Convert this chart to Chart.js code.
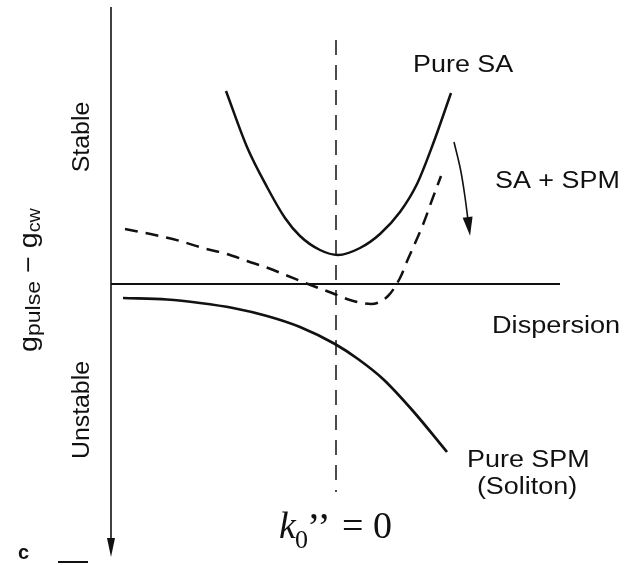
<!DOCTYPE html>
<html>
<head>
<meta charset="utf-8">
<script src="https://cdn.jsdelivr.net/npm/chart.js@4.4.1/dist/chart.umd.min.js"></script>
<style>
  html, body { margin: 0; padding: 0; background: #fff; }
  #wrap { position: relative; width: 637px; height: 565px; }
</style>
</head>
<body>
<div id="wrap"><canvas id="chart" width="637" height="565"></canvas></div>
<script>
// x: dispersion (0 at k0'' = 0), y: g_pulse - g_cw (0 = marginal stability)
const pureSaX = [-1.10, -0.89, -0.69, -0.51, -0.36, -0.16, 0.02, 0.24, 0.44, 0.64, 0.81, 0.97, 1.15];
const pureSaY = [1.93, 1.37, 0.97, 0.66, 0.48, 0.34, 0.29, 0.36, 0.50, 0.72, 1.00, 1.40, 1.91];

const saSpmX = [-2.11, -1.81, -1.56, -1.33, -1.09, -0.89, -0.68, -0.48, -0.28, -0.04, 0.14, 0.35, 0.52, 0.64, 0.72, 0.80, 0.88, 0.96, 1.05];
const saSpmY = [0.55, 0.49, 0.43, 0.36, 0.30, 0.23, 0.16, 0.08, 0.00, -0.09, -0.16, -0.20, -0.12, 0.06, 0.25, 0.43, 0.62, 0.84, 1.08];

const pureSpmX = [-2.13, -1.69, -1.36, -1.03, -0.69, -0.36, -0.01, 0.22, 0.47, 0.77, 1.11];
const pureSpmY = [-0.14, -0.155, -0.19, -0.24, -0.32, -0.43, -0.60, -0.75, -0.95, -1.27, -1.68];

// arrow from Pure SA down to SA + SPM
const arrowX = [1.18, 1.25, 1.29, 1.32];
const arrowY = [1.42, 1.12, 0.87, 0.64];

// k0'' = 0 marker
const zeroDispX = [0, 0];
const zeroDispY = [2.44, -2.08];

const xMin = -2.25, xMax = 2.24;
const yMin = -2.73, yMax = 2.77;

function pts(xs, ys) {
  return xs.map((x, i) => ({ x: x, y: ys[i] }));
}

function line(data, opts) {
  return Object.assign({
    data: data,
    showLine: true,
    pointRadius: 0,
    borderColor: "#111",
    borderWidth: 2.5,
    fill: false,
    cubicInterpolationMode: "monotone"
  }, opts);
}

function head(ctx, tx, ty, dx, dy, len, hw) {
  const n = Math.hypot(dx, dy) || 1;
  dx /= n; dy /= n;
  const bx = tx - dx * len, by = ty - dy * len;
  ctx.beginPath();
  ctx.moveTo(tx, ty);
  ctx.lineTo(bx - dy * hw, by + dx * hw);
  ctx.lineTo(bx + dy * hw, by - dx * hw);
  ctx.closePath();
  ctx.fill();
}

function wideText(ctx, text, x, y, sx) {
  ctx.save();
  ctx.translate(x, y);
  ctx.scale(sx, 1);
  ctx.fillText(text, 0, 0);
  ctx.restore();
}

// -----------------------------
// Axes, arrowheads and labels
// -----------------------------
const sketchPlugin = {
  id: "sketch",
  beforeDatasetsDraw(chart) {
    const ctx = chart.ctx;
    const area = chart.chartArea;
    const y0 = chart.scales.y.getPixelForValue(0);
    ctx.save();
    ctx.strokeStyle = "#111";
    ctx.lineWidth = 1.6;
    ctx.beginPath();
    ctx.moveTo(area.left, area.top);
    ctx.lineTo(area.left, area.bottom - 10);
    ctx.stroke();
    ctx.lineWidth = 2;
    ctx.beginPath();
    ctx.moveTo(area.left, y0);
    ctx.lineTo(area.right, y0);
    ctx.stroke();
    ctx.restore();
  },
  afterDraw(chart) {
    const ctx = chart.ctx;
    const area = chart.chartArea;
    ctx.save();
    ctx.fillStyle = "#111";

    // axis arrow
    head(ctx, area.left, area.bottom, 0, 1, 19, 4);

    // curved arrow head
    const pts = chart.getDatasetMeta(3).data;
    const a = pts[pts.length - 2], b = pts[pts.length - 1];
    const dx = b.x - a.x, dy = b.y - a.y, n = Math.hypot(dx, dy);
    head(ctx, b.x + dx / n * 16, b.y + dy / n * 16, dx, dy, 19, 5);

    // curve labels
    ctx.font = "23px 'Liberation Sans', Arial, sans-serif";
    ctx.textBaseline = "alphabetic";
    ctx.textAlign = "left";
    wideText(ctx, "Pure SA", 413, 72, 1.17);
    wideText(ctx, "SA + SPM", 495, 188, 1.17);
    wideText(ctx, "Dispersion", 492, 333, 1.18);
    wideText(ctx, "Pure SPM", 467, 467, 1.17);
    ctx.textAlign = "center";
    wideText(ctx, "(Soliton)", 527, 494, 1.17);

    // rotated axis labels
    function vtext(text, x, y) {
      ctx.save();
      ctx.translate(x, y);
      ctx.rotate(-Math.PI / 2);
      ctx.scale(1.08, 1);
      ctx.textAlign = "center";
      ctx.fillText(text, 0, 0);
      ctx.restore();
    }
    vtext("Stable", 89, 137);
    vtext("Unstable", 89, 410);

    // g_pulse - g_cw
    ctx.save();
    ctx.translate(37, 352);
    ctx.rotate(-Math.PI / 2);
    ctx.scale(1.1, 1);
    ctx.textAlign = "left";
    let cx = 0;
    const parts = [
      ["g", 26, 0], ["pulse", 21, 3], [" \u2212 ", 26, 0], ["g", 26, 0], ["cw", 18, 3]
    ];
    parts.forEach(p => {
      ctx.font = p[1] + "px 'Liberation Sans', Arial, sans-serif";
      ctx.fillText(p[0], cx, p[2]);
      cx += ctx.measureText(p[0]).width;
    });
    ctx.restore();

    // panel letter
    ctx.font = "bold 20px 'Liberation Sans', Arial, sans-serif";
    ctx.textAlign = "left";
    ctx.fillText("c", 18, 559);
    ctx.lineWidth = 2;
    ctx.strokeStyle = "#111";
    ctx.beginPath();
    ctx.moveTo(58, 562);
    ctx.lineTo(88, 562);
    ctx.stroke();

    // k0'' = 0
    ctx.font = "italic 38px 'Liberation Serif', 'Times New Roman', serif";
    ctx.fillText("k", 279, 538);
    ctx.font = "26px 'Liberation Serif', 'Times New Roman', serif";
    ctx.fillText("0", 295, 548);
    ctx.font = "40px 'Liberation Serif', 'Times New Roman', serif";
    ctx.fillText("\u2019\u2019", 307, 540);
    ctx.font = "38px 'Liberation Serif', 'Times New Roman', serif";
    ctx.fillText("=", 342, 538);
    ctx.fillText("0", 373, 538);

    ctx.restore();
  }
};

new Chart(document.getElementById("chart"), {
  type: "scatter",
  data: {
    datasets: [
      line(pts(pureSaX, pureSaY), { label: "Pure SA" }),
      line(pts(saSpmX, saSpmY), { label: "SA + SPM", borderDash: [13, 8] }),
      line(pts(pureSpmX, pureSpmY), { label: "Pure SPM", borderWidth: 2.7 }),
      line(pts(arrowX, arrowY), { label: "arrow", borderWidth: 1.6 }),
      line(pts(zeroDispX, zeroDispY), { label: "k0''=0", borderWidth: 1.5, borderDash: [15, 10], cubicInterpolationMode: "default", tension: 0 })
    ]
  },
  options: {
    responsive: false,
    animation: false,
    layout: { padding: { left: 111, right: 77, top: 7, bottom: 8 } },
    plugins: {
      legend: { display: false },
      tooltip: { enabled: false }
    },
    scales: {
      x: { type: "linear", display: false, min: xMin, max: xMax },
      y: { type: "linear", display: false, min: yMin, max: yMax }
    }
  },
  plugins: [sketchPlugin]
});
</script>
</body>
</html>
